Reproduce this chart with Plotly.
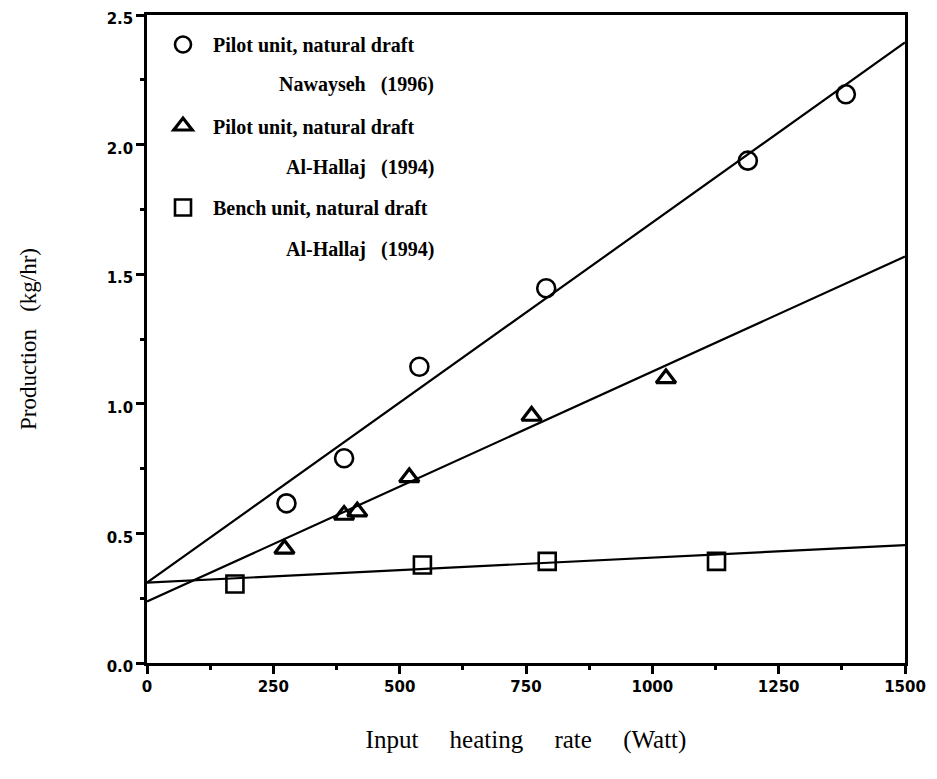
import plotly.graph_objects as go

# ---- data ----
circle_x = [276, 390, 539, 790, 1189, 1383]
circle_y = [0.616, 0.79, 1.143, 1.446, 1.938, 2.194]

tri_x = [272, 390, 416, 519, 761, 1027]
tri_y = [0.44, 0.571, 0.584, 0.716, 0.953, 1.098]

sq_x = [174, 545, 792, 1127]
sq_y = [0.305, 0.378, 0.392, 0.392]

fit_x = [0, 1500]
circle_fit = [0.31, 2.394]
tri_fit = [0.237, 1.568]
sq_fit = [0.31, 0.455]

x_ticks = [0, 250, 500, 750, 1000, 1250, 1500]
y_ticks = [0.0, 0.5, 1.0, 1.5, 2.0, 2.5]
y_tick_text = ["0.0", "0.5", "1.0", "1.5", "2.0", "2.5"]

legend_names = ["Pilot unit, natural draft", "Pilot unit, natural draft", "Bench unit, natural draft"]
legend_refs = ["Nawayseh   (1996)", "Al-Hallaj   (1994)", "Al-Hallaj   (1994)"]

NB = "\u00a0"
OFF = 8  # default page body margin
fig = go.Figure()

# fitted lines
for fy in (circle_fit, tri_fit, sq_fit):
    fig.add_trace(go.Scatter(x=fit_x, y=fy, mode="lines", line=dict(color="black", width=2.2),
                             showlegend=False, hoverinfo="skip"))

mk_line = dict(color="black", width=2.6)
fig.add_trace(go.Scatter(x=circle_x, y=circle_y, mode="markers", name=NB * 2 + legend_names[0],
                         legendgroup="a",
                         marker=dict(symbol="circle-open", size=18, color="black", line=mk_line)))
fig.add_trace(go.Scatter(x=tri_x, y=tri_y, mode="markers", name=NB * 2 + legend_names[1],
                         legendgroup="b",
                         marker=dict(symbol="triangle-up-open", size=17, color="black",
                                     line=dict(color="black", width=3.2))))
fig.add_trace(go.Scatter(x=sq_x, y=sq_y, mode="markers", name=NB * 2 + legend_names[2],
                         legendgroup="c",
                         marker=dict(symbol="square-open", size=17, color="black", line=mk_line)))

# target plot-area edges in the page (pixels)
H_TOP, H_BOT, L, R = 15, 663, 147, 905
W, H = 921, 762


def py(px):
    return (H_BOT - px) / (H_BOT - H_TOP)


def pxx(px):
    return (px - L) / (R - L)


ref_y = [84, 167, 250]
for txt, yy in zip(legend_refs, ref_y):
    fig.add_annotation(x=pxx(436), y=py(yy), xref="paper", yref="paper", text=txt.replace(" ", NB),
                       showarrow=False, xanchor="right", yanchor="middle",
                       font=dict(family="Liberation Serif", size=20, color="black", weight="bold"))

tick_font = dict(family="DejaVu Sans", size=15, color="black", weight="bold")

fig.update_xaxes(range=[0, 1500], tickvals=x_ticks, ticktext=[str(v) for v in x_ticks],
                 automargin=False, ticklabeloverflow="allow",
                 showline=True, linecolor="black", linewidth=2.5, mirror=True,
                 ticks="outside", ticklen=8, tickwidth=2.5, tickcolor="black",
                 minor=dict(dtick=125, tick0=0, ticks="outside", ticklen=4, tickwidth=2.5, tickcolor="black"),
                 showgrid=False, zeroline=False, tickfont=tick_font,
                 title=dict(text="Input" + NB * 5 + "heating" + NB * 5 + "rate" + NB * 5 + "(Watt)",
                            font=dict(family="Liberation Serif", size=25, color="black"), standoff=36))
fig.update_yaxes(range=[0, 2.5], tickvals=y_ticks, ticktext=y_tick_text,
                 automargin=False, ticklabeloverflow="allow", ticklabelshift=4,
                 showline=True, linecolor="black", linewidth=2.5, mirror=True,
                 ticks="outside", ticklen=8, tickwidth=2.5, tickcolor="black",
                 minor=dict(dtick=0.25, tick0=0, ticks="outside", ticklen=4, tickwidth=2.5, tickcolor="black"),
                 showgrid=False, zeroline=False, tickfont=tick_font,
                 title=dict(text="Production" + NB * 3 + "(kg/hr)",
                            font=dict(family="Liberation Serif", size=23, color="black"), standoff=64))

fig.update_layout(
    width=W, height=H,
    margin=dict(l=L - OFF, r=W - (R - OFF), t=H_TOP - OFF, b=H - (H_BOT - OFF)),
    plot_bgcolor="white", paper_bgcolor="white",
    showlegend=True,
    legend=dict(x=pxx(163), y=py(25), xanchor="left", yanchor="top",
                traceorder="grouped", tracegroupgap=52.5, bgcolor="rgba(0,0,0,0)",
                borderwidth=0, itemwidth=30,
                font=dict(family="Liberation Serif", size=20, color="black", weight="bold")),
)

fig.write_html("out.html")
